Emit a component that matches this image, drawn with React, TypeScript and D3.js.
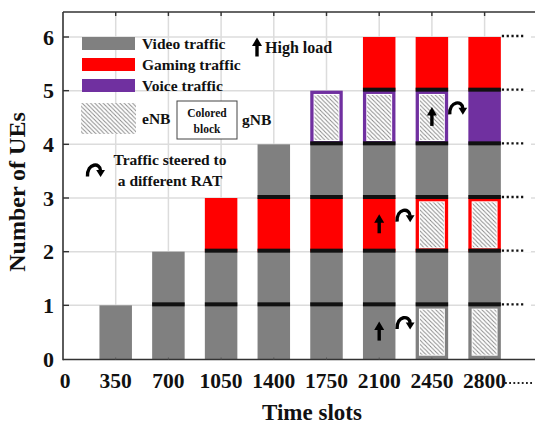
import React from "react";
import * as d3 from "d3";

// ---- data ----
const timeSlots = [350, 700, 1050, 1400, 1750, 2100, 2450, 2800];
const xTickValues = [0, 350, 700, 1050, 1400, 1750, 2100, 2450, 2800];
const yTickValues = [0, 1, 2, 3, 4, 5, 6];

// traffic type of each stacked UE block (bottom to top), per time slot
const trafficStacks: string[][] = [
  ["Video"],
  ["Video", "Video"],
  ["Video", "Video", "Gaming"],
  ["Video", "Video", "Gaming", "Video"],
  ["Video", "Video", "Gaming", "Video", "Voice"],
  ["Video", "Video", "Gaming", "Video", "Voice", "Gaming"],
  ["Video", "Video", "Gaming", "Video", "Voice", "Gaming"],
  ["Video", "Video", "Gaming", "Video", "Voice", "Gaming"],
];
// RAT serving each block
const ratStacks: string[][] = [
  ["gNB"],
  ["gNB", "gNB"],
  ["gNB", "gNB", "gNB"],
  ["gNB", "gNB", "gNB", "gNB"],
  ["gNB", "gNB", "gNB", "gNB", "eNB"],
  ["gNB", "gNB", "gNB", "gNB", "eNB", "gNB"],
  ["eNB", "gNB", "eNB", "gNB", "eNB", "gNB"],
  ["eNB", "gNB", "eNB", "gNB", "gNB", "gNB"],
];
const highLoadSlots = [2100, 2100, 2450];
const highLoadLevels = [0, 2, 4];
const steerFrom = [2100, 2100, 2450];
const steerTo = [2450, 2450, 2800];
const steerLevels = [0, 2, 4];

const trafficColors: Record<string, string> = {
  Video: "#808080",
  Gaming: "#ff0000",
  Voice: "#7030a0",
};
const legendTraffic = ["Video", "Gaming", "Voice"];

const FONT = "'Liberation Serif', 'Times New Roman', serif";

function UpArrow({ cx, cy }: { cx: number; cy: number }) {
  const top = cy - 9.5;
  return (
    <g fill="#000">
      <polygon points={`${cx - 5},${top + 8.5} ${cx + 5},${top + 8.5} ${cx},${top}`} />
      <rect x={cx - 1.7} y={top + 7.5} width={3.4} height={11.5} />
    </g>
  );
}

function SteerArrow({ cx, cy }: { cx: number; cy: number }) {
  return (
    <g>
      <path
        d={`M${cx - 7.5},${cy + 6.5} C${cx - 8},${cy - 7.5} ${cx + 5.5},${cy - 7.5} ${cx + 5.5},${cy + 0.5}`}
        fill="none"
        stroke="#000"
        strokeWidth={3.4}
      />
      <polygon points={`${cx + 1.2},${cy} ${cx + 10},${cy} ${cx + 5.6},${cy + 7}`} fill="#000" />
    </g>
  );
}

export default function App() {
  const W = 535;
  const H = 428;
  const left = 63;
  const right = 535;
  const top = 12;
  const bottom = 359.5;

  const x = d3.scaleLinear().domain([0, 2800]).range([left, 484.6]);
  const y = d3.scaleLinear().domain([0, 6]).range([359, 37]);
  const barW = 32.5;

  const blocks: React.ReactNode[] = [];
  const seps: React.ReactNode[] = [];
  timeSlots.forEach((t, i) => {
    const bx = x(t) - barW / 2;
    trafficStacks[i].forEach((type, j) => {
      const y0 = y(j + 1);
      const h = y(j) - y(j + 1);
      const color = trafficColors[type];
      blocks.push(<rect key={`b${i}-${j}`} x={bx} y={y0} width={barW} height={h} fill={color} />);
      if (ratStacks[i][j] === "eNB") {
        blocks.push(
          <rect key={`w${i}-${j}`} x={bx + 3.3} y={y0 + 3.3} width={barW - 6.6} height={h - 6.6} fill="#fff" />
        );
        blocks.push(
          <rect key={`h${i}-${j}`} x={bx + 4.3} y={y0 + 4.3} width={barW - 8.6} height={h - 8.6} fill="url(#hatch)" />
        );
      }
      if (j > 0) {
        seps.push(<rect key={`s${i}-${j}`} x={bx} y={y(j) - 3} width={barW} height={4} fill="#111" />);
      }
    });
  });

  return (
    <svg
      width={W}
      height={H}
      viewBox={`0 0 ${W} ${H}`}
      style={{ position: "absolute", left: 0, top: 0, background: "#fff" }}
      fontFamily={FONT}
    >
      <defs>
        <pattern id="hatch" patternUnits="userSpaceOnUse" width={4.2} height={4.2}>
          <rect width={4.2} height={4.2} fill="#fff" />
          <path d="M0,0 L4.2,4.2 M-1,3.2 L1,5.2 M3.2,-1 L5.2,1" stroke="#8a8a8a" strokeWidth={1} />
        </pattern>
      </defs>
      <rect x={0} y={0} width={W} height={H} fill="#fff" />

      {/* grid */}
      {yTickValues.filter((v) => v > 0).map((v) => (
        <line key={`gy${v}`} x1={left} x2={right} y1={y(v)} y2={y(v)} stroke="#dcdcdc" strokeWidth={1.5} />
      ))}
      {timeSlots.map((t) => (
        <line key={`gx${t}`} x1={x(t)} x2={x(t)} y1={top} y2={bottom} stroke="#dcdcdc" strokeWidth={1.5} />
      ))}

      {/* bars */}
      {blocks}
      {seps}

      {/* dotted continuation */}
      {yTickValues.filter((v) => v > 0).map((v) => (
        <g key={`dc${v}`}>
          <line x1={x(2800) + barW / 2 + 0.5} x2={531} y1={y(v) - 1} y2={y(v) - 1} stroke="#fff" strokeWidth={4} />
          <line
            x1={x(2800) + barW / 2 + 1}
            x2={524}
            y1={y(v) - 1}
            y2={y(v) - 1}
            stroke="#111"
            strokeWidth={2.4}
            strokeDasharray="2.2,2.6"
          />
        </g>
      ))}

      {/* frame */}
      <line x1={left} x2={left} y1={top} y2={bottom + 0.8} stroke="#333" strokeWidth={1.6} />
      <line x1={left} x2={right} y1={top} y2={top} stroke="#333" strokeWidth={1.6} />
      <line x1={left} x2={right} y1={bottom} y2={bottom} stroke="#333" strokeWidth={1.6} />
      {timeSlots.map((t) => (
        <line key={`tt${t}`} x1={x(t)} x2={x(t)} y1={top} y2={top + 4} stroke="#333" strokeWidth={1.4} />
      ))}
      {timeSlots.map((t) => (
        <line key={`tb${t}`} x1={x(t)} x2={x(t)} y1={bottom} y2={bottom - 2} stroke="#555" strokeWidth={1} />
      ))}
      {yTickValues.filter((v) => v > 0).map((v) => (
        <line key={`ty${v}`} x1={left} x2={left + 6} y1={y(v)} y2={y(v)} stroke="#333" strokeWidth={1.4} />
      ))}

      {/* tick labels */}
      {xTickValues.map((t) => (
        <text key={`xl${t}`} x={x(t) + (t === 0 ? 2 : 0)} y={388} textAnchor="middle" fontSize={21.5} fontWeight="bold" fill="#111">
          {t}
        </text>
      ))}
      <line x1={505} x2={534} y1={383} y2={383} stroke="#222" strokeWidth={1.8} strokeDasharray="1.8,2.4" />
      {yTickValues.map((v) => (
        <text key={`yl${v}`} x={54} y={y(v) + 7.5} textAnchor="end" fontSize={22} fontWeight="bold" fill="#111">
          {v}
        </text>
      ))}

      {/* axis titles */}
      <text x={312} y={420} textAnchor="middle" fontSize={23} fontWeight="bold" fill="#111">
        Time slots
      </text>
      <text transform="translate(25,192) rotate(-90)" textAnchor="middle" fontSize={24} fontWeight="bold" fill="#111">
        Number of UEs
      </text>

      {/* markers */}
      {highLoadSlots.map((s, k) => (
        <UpArrow key={`ua${k}`} cx={x(s)} cy={y(highLoadLevels[k] + 0.52)} />
      ))}
      {steerFrom.map((s, k) => (
        <SteerArrow key={`sa${k}`} cx={(x(s) + x(steerTo[k])) / 2 - 1} cy={y(steerLevels[k] + 0.68)} />
      ))}

      {/* legend */}
      {legendTraffic.map((tname, k) => (
        <g key={`lg${tname}`}>
          <rect x={82} y={37 + k * 21} width={53} height={13} fill={trafficColors[tname]} />
          <text x={142} y={48.5 + k * 21} fontSize={15.5} fontWeight="bold" fill="#111">
            {tname} traffic
          </text>
        </g>
      ))}
      <rect x={81} y={103} width={55} height={31} fill="url(#hatch)" />
      <text x={142} y={123.5} fontSize={15.5} fontWeight="bold" fill="#111">eNB</text>
      <rect x={177} y={101} width={60} height={38} fill="#fff" stroke="#444" strokeWidth={1} />
      <text x={207} y={117} textAnchor="middle" fontSize={11.5} fontWeight="bold" fill="#111">Colored</text>
      <text x={207} y={133} textAnchor="middle" fontSize={11.5} fontWeight="bold" fill="#111">block</text>
      <text x={242} y={124.5} fontSize={15.5} fontWeight="bold" fill="#111">gNB</text>
      <UpArrow cx={257} cy={47} />
      <text x={265} y={53} fontSize={16} fontWeight="bold" fill="#111">High load</text>
      <SteerArrow cx={95} cy={170} />
      <text x={170} y={165} textAnchor="middle" fontSize={15.5} fontWeight="bold" fill="#111">Traffic steered to</text>
      <text x={170} y={186} textAnchor="middle" fontSize={15.5} fontWeight="bold" fill="#111">a different RAT</text>
    </svg>
  );
}
